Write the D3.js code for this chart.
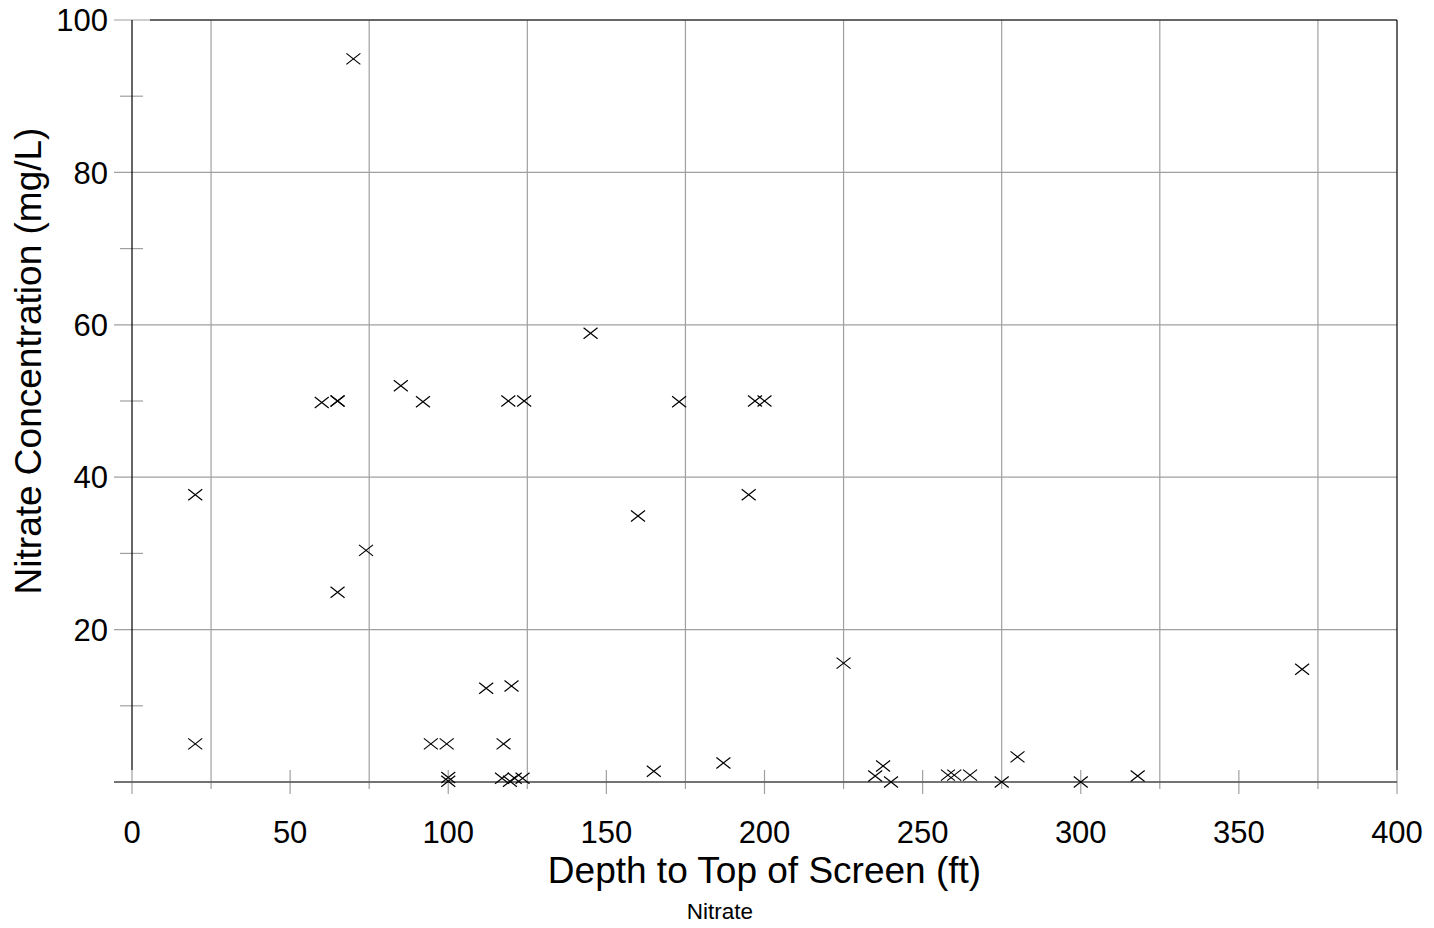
<!DOCTYPE html>
<html>
<head>
<meta charset="utf-8">
<script src="https://cdn.jsdelivr.net/npm/d3@7"></script>
<style>
  body { margin: 0; background: #fff; }
  svg text { font-family: "Liberation Sans", Arial, sans-serif; fill: #000; }
</style>
</head>
<body>
<svg width="1434" height="928"></svg>
<script>
// depth to top of screen (ft)
var depth = [20, 20, 70, 60, 65, 65, 85, 92, 74, 65, 94.5, 99.5, 100, 100,
    112, 120, 117.5, 119, 124, 117, 119.5, 121, 123.5, 145, 160, 165, 173,
    187, 195, 197, 200, 225, 235, 237.5, 240, 258, 260, 265, 275, 280, 300, 318, 370];
// nitrate concentration (mg/L)
var nitrate = [37.7, 5, 94.9, 49.8, 50, 50, 52, 49.9, 30.4, 24.9, 5, 5, 0.6, 0.1,
    12.3, 12.6, 5, 50, 50, 0.5, 0.1, 0.5, 0.5, 58.9, 34.9, 1.4, 49.9,
    2.5, 37.7, 50, 50, 15.6, 0.8, 2.1, 0, 0.9, 0.9, 0.9, 0, 3.3, 0, 0.8, 14.8];

var xTicks = [0, 50, 100, 150, 200, 250, 300, 350, 400];
var xGrid = [25, 75, 125, 175, 225, 275, 325, 375];
var yTicks = [20, 40, 60, 80, 100];
var yMinor = [10, 30, 50, 70, 90];

var svg = d3.select("svg"),
    pLeft = 132, pRight = 1397, pTop = 20, pBottom = 782;

var x = d3.scaleLinear().domain([0, 400]).range([pLeft, pRight]),
    y = d3.scaleLinear().domain([0, 100]).range([pBottom, pTop]);

var data = depth.map((d, i) => ({ d: d, v: nitrate[i] }));

var grid = svg.append("g");

// vertical grid lines at the odd 25s
grid.selectAll(".vg")
    .data(xGrid)
    .enter().append("line")
    .attr("x1", d => x(d)).attr("x2", d => x(d))
    .attr("y1", pTop).attr("y2", pBottom + 7)
    .attr("stroke", "#a0a0a0").attr("stroke-width", 1.2);

// horizontal grid lines
grid.selectAll(".hg")
    .data([0].concat(yTicks))
    .enter().append("line")
    .attr("x1", pLeft - 18).attr("x2", pRight)
    .attr("y1", d => y(d)).attr("y2", d => y(d))
    .attr("stroke", "#a0a0a0").attr("stroke-width", 1.2);

// bottom ticks (crossing the axis)
grid.selectAll(".xt")
    .data(xTicks)
    .enter().append("line")
    .attr("x1", d => x(d)).attr("x2", d => x(d))
    .attr("y1", pBottom - 12).attr("y2", pBottom + 12)
    .attr("stroke", "#a0a0a0").attr("stroke-width", 1.2);

// left minor ticks
grid.selectAll(".yt")
    .data(yMinor)
    .enter().append("line")
    .attr("x1", pLeft - 12).attr("x2", pLeft + 11)
    .attr("y1", d => y(d)).attr("y2", d => y(d))
    .attr("stroke", "#a0a0a0").attr("stroke-width", 1.2);

// frame
svg.append("line")
    .attr("x1", pLeft - 18).attr("x2", pRight)
    .attr("y1", pBottom).attr("y2", pBottom)
    .attr("stroke", "#555").attr("stroke-width", 1.5);
svg.append("line")
    .attr("x1", pLeft).attr("x2", pLeft)
    .attr("y1", pTop).attr("y2", pBottom - 12)
    .attr("stroke", "#000").attr("stroke-width", 1.2);
svg.append("line")
    .attr("x1", pRight).attr("x2", pRight)
    .attr("y1", pTop).attr("y2", pBottom - 12)
    .attr("stroke", "#000").attr("stroke-width", 1.2);
svg.append("line")
    .attr("x1", pLeft + 18).attr("x2", pRight)
    .attr("y1", pTop).attr("y2", pTop)
    .attr("stroke", "#000").attr("stroke-width", 1.2);

// tick labels
svg.selectAll(".xl")
    .data(xTicks)
    .enter().append("text")
    .attr("x", d => x(d))
    .attr("y", 843)
    .attr("text-anchor", "middle")
    .style("font-size", "31px")
    .text(d => d);

svg.selectAll(".yl")
    .data(yTicks)
    .enter().append("text")
    .attr("x", pLeft - 24)
    .attr("y", d => y(d))
    .attr("dy", "0.36em")
    .attr("text-anchor", "end")
    .style("font-size", "31px")
    .text(d => d);

// axis titles
svg.append("text")
    .attr("x", x(200))
    .attr("y", 883)
    .attr("text-anchor", "middle")
    .style("font-size", "37px")
    .text("Depth to Top of Screen (ft)");

svg.append("text")
    .attr("x", 720)
    .attr("y", 919)
    .attr("text-anchor", "middle")
    .style("font-size", "22.5px")
    .text("Nitrate");

svg.append("text")
    .attr("transform", "translate(41,361) rotate(-90)")
    .attr("text-anchor", "middle")
    .style("font-size", "37px")
    .text("Nitrate Concentration (mg/L)");

// cross markers
var hw = 7, hh = 5.5;
svg.append("g").selectAll("path")
    .data(data)
    .enter().append("path")
    .attr("d", p => {
        var cx = x(p.d), cy = y(p.v);
        return "M" + (cx - hw) + "," + (cy - hh) + "L" + (cx + hw) + "," + (cy + hh) +
            "M" + (cx - hw) + "," + (cy + hh) + "L" + (cx + hw) + "," + (cy - hh);
    })
    .attr("stroke", "#000")
    .attr("stroke-width", 1.2)
    .attr("fill", "none");
</script>
</body>
</html>
